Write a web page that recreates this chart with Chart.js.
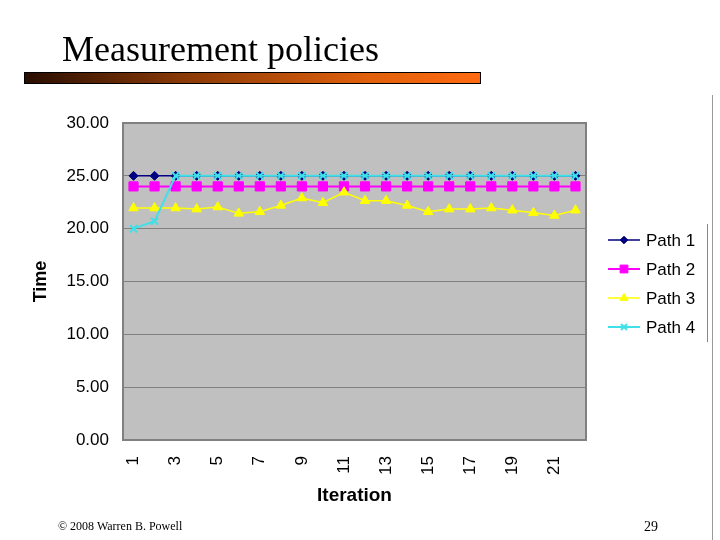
<!DOCTYPE html>
<html>
<head>
<meta charset="utf-8">
<script src="https://cdn.jsdelivr.net/npm/chart.js@4.4.1/dist/chart.umd.min.js"></script>
<style>
  html, body { margin:0; padding:0; background:#fff; }
  #page { position:relative; width:720px; height:540px; overflow:hidden; }
  #title { position:absolute; left:62px; top:28px; font-family:"Liberation Serif","DejaVu Serif",serif; font-size:36px; color:#000; }
  #bar { position:absolute; left:24px; top:72px; width:455px; height:10px; border:1px solid #000;
         background:linear-gradient(to right,#2a0e00,#8a3a08 35%,#e0600c 75%,#ff6a10); }
  #copy { position:absolute; left:58px; top:519px; font-family:"Liberation Serif",serif; font-size:12px; }
  #num { position:absolute; left:644px; top:519px; font-family:"Liberation Serif",serif; font-size:14px; }
  #frame { position:absolute; left:712px; top:95px; width:1px; height:445px; background:#999; }
  #chart { position:absolute; left:0; top:0; }
</style>
</head>
<body>
<div id="page">
  <canvas id="chart" width="720" height="540"></canvas>
  <div id="title">Measurement policies</div>
  <div id="bar"></div>
  <div id="frame"></div>
  <div id="copy">© 2008 Warren B. Powell</div>
  <div id="num">29</div>
</div>
<script>
// données
const iterations = ['1','2','3','4','5','6','7','8','9','10','11','12','13','14','15','16','17','18','19','20','21','22']
const path1 = [25,25,25,25,25,25,25,25,25,25,25,25,25,25,25,25,25,25,25,25,25,25]
const path2 = [24,24,24,24,24,24,24,24,24,24,24,24,24,24,24,24,24,24,24,24,24,24]
const path3 = [21.95,21.95,21.95,21.85,22.05,21.45,21.6,22.2,22.9,22.45,23.45,22.65,22.65,22.2,21.6,21.85,21.85,21.95,21.75,21.5,21.25,21.75]
const path4 = [20.0,20.7,25,25,25,25,25,25,25,25,25,25,25,25,25,25,25,25,25,25,25,25]
const yTicks = [0,5,10,15,20,25,30]

const ctx = document.getElementById('chart').getContext('2d')

const plotBg = {
    id:'plotBg',
    beforeDraw(chart){
        const {ctx, chartArea:{left,top,right,bottom}} = chart
        ctx.save()
        ctx.fillStyle = '#c0c0c0'
        ctx.fillRect(left,top,right-left,bottom-top)
        ctx.restore()
    },
    afterDatasetsDraw(chart){
        const {ctx, chartArea:{left,top,right,bottom}} = chart
        ctx.save()
        ctx.strokeStyle = '#808080'
        ctx.lineWidth = 2
        ctx.strokeRect(left,top,right-left,bottom-top)
        ctx.restore()
    }
}

// légende : trait + marqueur, comme dans Excel
const lineLegend = {
    id:'lineLegend',
    afterDraw(chart){
        const {ctx} = chart
        const x0 = 608, y0 = 240, step = 29
        ctx.save()
        chart.data.datasets.forEach((ds,i)=>{
            const y = y0 + i*step
            ctx.strokeStyle = ds.borderColor
            ctx.fillStyle = ds.borderColor
            ctx.lineWidth = ds.borderWidth
            ctx.beginPath()
            ctx.moveTo(x0,y)
            ctx.lineTo(x0+32,y)
            ctx.stroke()
            ctx.lineWidth = ds.pointBorderWidth
            Chart.helpers.drawPoint(ctx,{
                pointStyle:ds.pointStyle,
                radius:ds.pointRadius*0.85,
                rotation:0,
                borderWidth:ds.pointBorderWidth
            },x0+16,y)
            ctx.fillStyle = '#000'
            ctx.font = '17px "Liberation Sans", Arial, sans-serif'
            ctx.textBaseline = 'middle'
            ctx.fillText(ds.label,x0+38,y+1)
        })
        ctx.strokeStyle = '#888'
        ctx.lineWidth = 1
        ctx.beginPath()
        ctx.moveTo(707.5,224)
        ctx.lineTo(707.5,342)
        ctx.stroke()
        ctx.restore()
    }
}

function serie(label,data,color,style,radius,width,order){
    return {
        label:label,
        data:data,
        borderColor:color,
        backgroundColor:color,
        pointBackgroundColor:color,
        pointBorderColor:color,
        pointStyle:style,
        pointRadius:radius,
        pointBorderWidth:style==='crossRot' ? 2 : 1,
        borderWidth:width,
        tension:0,
        fill:false,
        order:order
    }
}

const data = {
    labels:iterations,
    datasets:[
        serie('Path 1',path1,'#000080','rectRot',4.5,1.5,3),
        serie('Path 2',path2,'#ff00ff','rect',6.5,2,2),
        serie('Path 3',path3,'#ffff00','triangle',5.5,1.5,1),
        serie('Path 4',path4,'#40e0e8','crossRot',5,2,0)
    ]
}

const config = {
    type:'line',
    data,
    options:{
        responsive:false,
        animation:false,
        layout:{
            padding:{left:26,top:123,right:134,bottom:29}
        },
        scales:{
            x:{
                offset:true,
                grid:{display:false,drawTicks:false},
                border:{display:false},
                ticks:{
                    autoSkip:false,
                    maxRotation:90,
                    minRotation:90,
                    padding:16,
                    color:'#000',
                    font:{family:'"Liberation Sans", Arial, sans-serif',size:17},
                    callback:function(value,index){
                        return index % 2 === 0 ? iterations[index] : ''
                    }
                },
                title:{
                    display:true,
                    text:'Iteration',
                    color:'#000',
                    font:{family:'"Liberation Sans", Arial, sans-serif',size:19,weight:'bold'}
                },
                afterFit:(scale)=>{ scale.height = 71 }
            },
            y:{
                min:0,
                max:30,
                afterBuildTicks:(scale)=>{ scale.ticks = yTicks.map(v=>({value:v})) },
                grid:{color:'#808080',lineWidth:1,drawTicks:false},
                border:{display:false},
                ticks:{
                    padding:14,
                    color:'#000',
                    font:{family:'"Liberation Sans", Arial, sans-serif',size:17},
                    callback:(v)=>Number(v).toFixed(2)
                },
                title:{
                    display:true,
                    text:'Time',
                    color:'#000',
                    font:{family:'"Liberation Sans", Arial, sans-serif',size:18,weight:'bold'}
                },
                afterFit:(scale)=>{ scale.width = 97 }
            }
        },
        plugins:{
            legend:{display:false},
            tooltip:{enabled:false}
        }
    },
    plugins:[plotBg,lineLegend]
}

new Chart(ctx,config)
</script>
</body>
</html>
